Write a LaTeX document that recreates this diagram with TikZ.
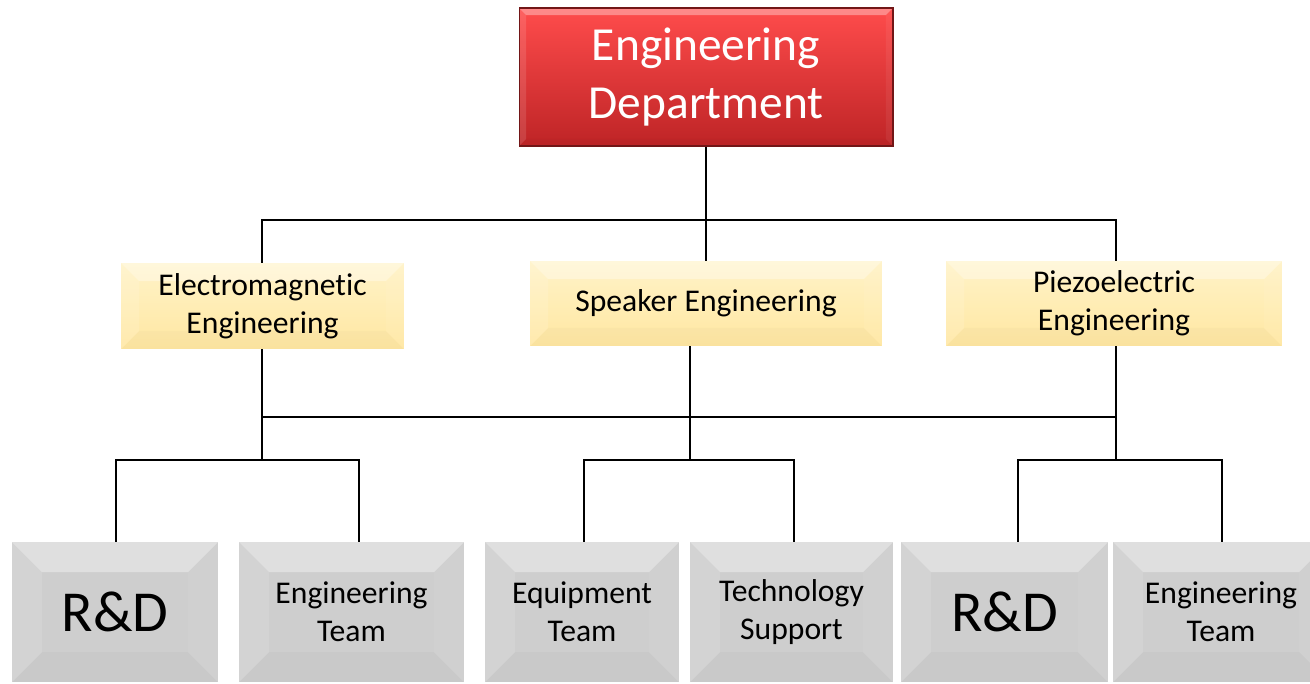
\documentclass[tikz,border=0pt]{standalone}
\usepackage{fontspec}
\setmainfont{Carlito}[Ligatures=NoCommon]
\usepackage{tikz}
\usetikzlibrary{calc}

\definecolor{deptRedTop}{RGB}{255,76,76}
\definecolor{deptRedBot}{RGB}{190,36,38}
\definecolor{groupTop}{RGB}{255,243,200}
\definecolor{groupBot}{RGB}{255,231,162}
\definecolor{teamGray}{RGB}{206,206,206}

\tikzset{
  bevelled/.style={path picture={
    \coordinate (nw) at (path picture bounding box.north west);
    \coordinate (ne) at (path picture bounding box.north east);
    \coordinate (sw) at (path picture bounding box.south west);
    \coordinate (se) at (path picture bounding box.south east);
    \fill[white,opacity=0.35] (nw) -- (ne) -- ([shift={(-#1,#1)}]ne) -- ([shift={(#1,#1)}]nw) -- cycle;
    \fill[white,opacity=0.12] (nw) -- ([shift={(#1,#1)}]nw) -- ([shift={(#1,-#1)}]sw) -- (sw) -- cycle;
    \fill[white,opacity=0.06] (ne) -- ([shift={(-#1,#1)}]ne) -- ([shift={(-#1,-#1)}]se) -- (se) -- cycle;
    \fill[black,opacity=0.02] (sw) -- ([shift={(#1,-#1)}]sw) -- ([shift={(-#1,-#1)}]se) -- (se) -- cycle;
  }},
  dept/.style={rectangle, inner sep=0pt, align=center, text=white,
    top color=deptRedTop, bottom color=deptRedBot, bevelled=7,
    draw=deptRedBot!60!black, line width=0.6pt,
    font=\fontsize{27}{33}\selectfont},
  group/.style={rectangle, inner sep=0pt, align=center,
    top color=groupTop, bottom color=groupBot, bevelled=18,
    minimum height=1.70cm, font=\fontsize{18}{21.6}\selectfont},
  team/.style={rectangle, inner sep=0pt, align=center,
    fill=teamGray, bevelled=30,
    minimum height=2.80cm, font=\fontsize{18}{21.6}\selectfont},
  big/.style={font=\fontsize{33}{40}\selectfont},
  link/.style={draw=black, line width=1.1pt}
}

\begin{document}
\begin{tikzpicture}[x=0.02cm, y=-0.02cm]
\path[use as bounding box, clip] (0,0) rectangle (1310,683);

% head
\node[dept, minimum width=7.48cm, minimum height=2.76cm] (dept) at (706,77) {Engineering\\Department};

% groups
\node[group, minimum width=5.66cm, minimum height=1.72cm] (em) at (262.5,306) {Electromagnetic\\Engineering};
\node[group, minimum width=7.04cm] (sp) at (706,303.5) {Speaker Engineering};
\node[group, minimum width=6.72cm] (pz) at (1114,303.5) {Piezoelectric\\Engineering};

% teams
\node[team, big, minimum width=4.12cm] (rd1) at (115,612) {R\&D};
\node[team, minimum width=4.50cm] (eng1) at (351.5,612) {Engineering\\Team};
\node[team, minimum width=3.88cm] (equip) at (582,612) {Equipment\\Team};
\node[team, minimum width=4.06cm] (tech) at (791.5,612) {Technology\\Support};
\node[team, big, minimum width=4.14cm] (rd2) at (1004.5,612) {R\&D};
\node[team, minimum width=4.32cm] (eng2) at (1221,612) {Engineering\\Team};

% head to groups
\draw[link] (dept.south) -- (sp.north);
\draw[link] (262,220 |- em.north) -- (262,220) -- (1116,220) -- (1116,220 |- pz.north);

% groups to teams
\draw[link] (262,460 |- em.south) -- (262,460);
\draw[link] (690,460 |- sp.south) -- (690,460);
\draw[link] (1116,460 |- pz.south) -- (1116,460);
\draw[link] (262,417) -- (1116,417);

\draw[link] (116,460 |- rd1.north) |- (359,460) -- (359,460 |- eng1.north);
\draw[link] (584,460 |- equip.north) |- (794,460) -- (794,460 |- tech.north);
\draw[link] (1018,460 |- rd2.north) |- (1222,460) -- (1222,460 |- eng2.north);
\end{tikzpicture}
\end{document}
